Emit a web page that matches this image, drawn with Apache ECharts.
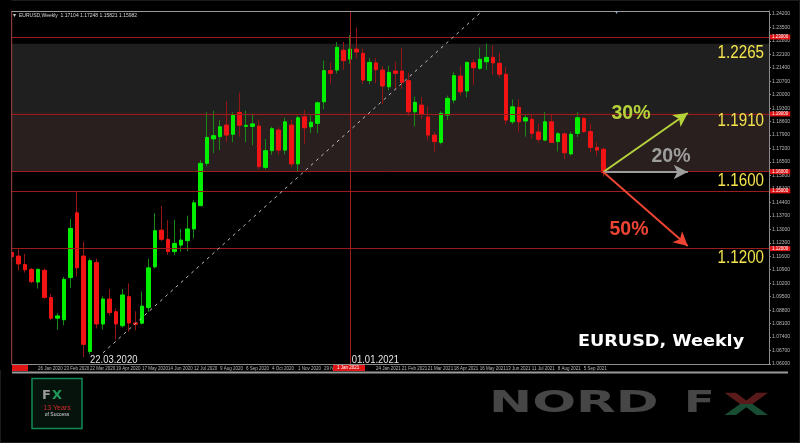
<!DOCTYPE html>
<html><head><meta charset="utf-8">
<script src="https://cdn.jsdelivr.net/npm/echarts@6/dist/echarts.min.js"></script>
<style>html,body{margin:0;padding:0;background:#000;}#c{width:800px;height:443px;}</style>
</head><body><div id="c"></div>
<script>
// ---------- data ----------
const weeks = ['29 Dec 2019','5 Jan 2020','12 Jan 2020','19 Jan 2020','26 Jan 2020','2 Feb 2020','9 Feb 2020','16 Feb 2020','23 Feb 2020','1 Mar 2020','8 Mar 2020','15 Mar 2020','22 Mar 2020','29 Mar 2020','5 Apr 2020','12 Apr 2020','19 Apr 2020','26 Apr 2020','3 May 2020','10 May 2020','17 May 2020','24 May 2020','31 May 2020','7 Jun 2020','14 Jun 2020','21 Jun 2020','28 Jun 2020','5 Jul 2020','12 Jul 2020','19 Jul 2020','26 Jul 2020','2 Aug 2020','9 Aug 2020','16 Aug 2020','23 Aug 2020','30 Aug 2020','6 Sep 2020','13 Sep 2020','20 Sep 2020','27 Sep 2020','4 Oct 2020','11 Oct 2020','18 Oct 2020','25 Oct 2020','1 Nov 2020','8 Nov 2020','15 Nov 2020','22 Nov 2020','29 Nov 2020','6 Dec 2020','13 Dec 2020','20 Dec 2020','27 Dec 2020','3 Jan 2021','10 Jan 2021','17 Jan 2021','24 Jan 2021','31 Jan 2021','7 Feb 2021','14 Feb 2021','21 Feb 2021','28 Feb 2021','7 Mar 2021','14 Mar 2021','21 Mar 2021','28 Mar 2021','4 Apr 2021','11 Apr 2021','18 Apr 2021','25 Apr 2021','2 May 2021','9 May 2021','16 May 2021','23 May 2021','30 May 2021','6 Jun 2021','13 Jun 2021','20 Jun 2021','27 Jun 2021','4 Jul 2021','11 Jul 2021','18 Jul 2021','25 Jul 2021','1 Aug 2021','8 Aug 2021','15 Aug 2021','22 Aug 2021','29 Aug 2021','5 Sep 2021','12 Sep 2021','19 Sep 2021','26 Sep 2021'];
const openP = [1.1180,1.1161,1.1117,1.1092,1.1026,1.1087,1.0946,1.0838,1.0830,1.1049,
1.1386,1.1161,1.0665,1.1127,1.0808,1.0938,1.0872,1.0799,1.0950,1.0813,
1.0812,1.0893,1.1105,1.1296,1.1248,1.1184,1.1218,1.1241,1.1302,1.1423,
1.1643,1.1770,1.1782,1.1842,1.1794,1.1908,1.1835,1.1835,1.1837,1.1622,
1.1709,1.1816,1.1712,1.1842,1.1640,1.1885,1.1833,1.1851,1.1963,1.2125,
1.2128,1.2231,1.2185,1.2237,1.2215,1.2073,1.2165,1.2128,1.2041,1.2123,
1.2123,1.2073,1.1911,1.1946,1.1884,1.1790,1.1752,1.1894,1.1972,1.2097,
1.2019,1.2166,1.2137,1.2171,1.2194,1.2163,1.2106,1.1859,1.1934,1.1863,
1.1872,1.1806,1.1764,1.1859,1.1756,1.1796,1.1692,1.1799,1.1877,1.1808,
1.1726,1.1716];
const closeP = [1.1158,1.1120,1.1090,1.1028,1.1092,1.0946,1.0838,1.0850,1.1040,1.1305,
1.1100,1.0702,1.1137,1.0808,1.0938,1.0867,1.0808,1.0959,1.0813,1.0807,
1.0901,1.1100,1.1293,1.1248,1.1184,1.1227,1.1244,1.1302,1.1438,1.1643,
1.1778,1.1787,1.1833,1.1790,1.1894,1.1841,1.1841,1.1848,1.1626,1.1709,
1.1823,1.1712,1.1859,1.1640,1.1880,1.1828,1.1857,1.1958,1.2125,1.2111,
1.2246,1.2177,1.2237,1.2222,1.2076,1.2168,1.2130,1.2045,1.2116,1.2111,
1.2064,1.1911,1.1960,1.1898,1.1790,1.1756,1.1903,1.1981,1.2099,1.2015,
1.2168,1.2140,1.2184,1.2194,1.2165,1.2106,1.1868,1.1937,1.1859,1.1880,
1.1799,1.1768,1.1859,1.1752,1.1797,1.1698,1.1794,1.1880,1.1808,1.1726,
1.1712,1.1595];
const highP = [1.1239,1.1201,1.1173,1.1100,1.1096,1.1096,1.0965,1.0865,1.1053,1.1355,
1.1496,1.1236,1.1147,1.1148,1.0952,1.0990,1.0887,1.0990,1.1019,1.0874,
1.0977,1.1147,1.1384,1.1422,1.1348,1.1349,1.1302,1.1371,1.1452,1.1660,
1.1909,1.1916,1.1867,1.1966,1.1909,1.2011,1.1917,1.1901,1.1872,1.1770,
1.1834,1.1831,1.1881,1.1870,1.1891,1.1920,1.1893,1.1965,1.2177,1.2167,
1.2273,1.2274,1.2310,1.2349,1.2240,1.2190,1.2190,1.2150,1.2150,1.2170,
1.2243,1.2113,1.1990,1.1989,1.1941,1.1807,1.1914,1.1995,1.2117,1.2150,
1.2172,1.2183,1.2245,1.2266,1.2255,1.2218,1.2145,1.1975,1.1975,1.1895,
1.1897,1.1850,1.1909,1.1900,1.1806,1.1806,1.1807,1.1909,1.1884,1.1849,
1.1752,1.1725];
const lowP = [1.1125,1.1086,1.1075,1.1019,1.0992,1.0940,1.0827,1.0778,1.0801,1.0995,
1.1055,1.0636,1.0650,1.0785,1.0780,1.0852,1.0727,1.0790,1.0767,1.0775,
1.0806,1.0871,1.1096,1.1239,1.1168,1.1166,1.1185,1.1186,1.1254,1.1421,
1.1627,1.1696,1.1711,1.1754,1.1753,1.1782,1.1753,1.1737,1.1612,1.1612,
1.1688,1.1689,1.1689,1.1622,1.1603,1.1745,1.1800,1.1800,1.1924,1.2058,
1.2110,1.2130,1.2160,1.2190,1.2055,1.2054,1.2058,1.1952,1.2022,1.2023,
1.2030,1.1891,1.1835,1.1874,1.1762,1.1704,1.1742,1.1868,1.1955,1.1995,
1.1986,1.2052,1.2130,1.2128,1.2104,1.2088,1.1845,1.1848,1.1807,1.1782,
1.1772,1.1752,1.1758,1.1750,1.1705,1.1664,1.1684,1.1780,1.1802,1.1700,
1.1684,1.1575];

const yMin = 1.06, yMax = 1.2435, yStep = 0.007;   // right price scale
const zoneTop = [1.2265, 1.1910];     // grey zone
const zoneMid = [1.1910, 1.1600];     // brown zone
const levelLines = [1.2265, 1.1910, 1.1600, 1.1500, 1.1200];
const levelTexts = [['1.2265',1.2265],['1.1910',1.1910],['1.1600',1.1600],['1.1200',1.1200]];
const markedWeek = 52;                // 01.01.2021 vertical line
const trendLine = [[14, 1.0658], [72, 1.2424]];
const arrowStart = [91, 1.1598];
const scenarios = [
  {label:'30%', end:[104, 1.1905], color:'#b6d23a'},
  {label:'20%', end:[104, 1.1598], color:'#9d9d9d'},
  {label:'50%', end:[104, 1.1213], color:'#ee4433'}
];
const titleText = 'EURUSD,Weekly  1.17104 1.17248 1.15821 1.15982';
const padSlots = 25;

// ---------- build ----------
const cats = weeks.concat(Array.from({length:padSlots}, (_, k) => 'pad' + k));
const wickData = weeks.map((_, i) => [openP[i], closeP[i], lowP[i], highP[i]]);
const bodyData = weeks.map((_, i) => [openP[i], closeP[i], Math.min(openP[i], closeP[i]), Math.max(openP[i], closeP[i])]);
const emptyData = cats.map(() => '-');

const LINE_RED = '#9a1c1c';
const option = {
  backgroundColor: '#000',
  animation: false,
  grid: {left: 8.75, right: 31, top: 11, bottom: 79, containLabel: false},
  xAxis: {
    type: 'category', data: cats, boundaryGap: true,
    axisLine: {show: true, lineStyle: {color: '#8c8c8c', width: 1}},
    axisTick: {show: false},
    splitLine: {show: false},
    axisLabel: {
      interval: (i) => i % 4 === 0 && i >= 4 && i <= 88 && i !== markedWeek,
      hideOverlap: false, showMinLabel: true,
      align: 'left', fontSize: 4.5, color: '#b8b8b8', margin: 2, fontFamily: 'Liberation Sans'
    }
  },
  yAxis: {
    type: 'value', position: 'right', min: yMin, max: yMax, interval: yStep, scale: true,
    axisLine: {show: true, lineStyle: {color: '#8c8c8c', width: 1}},
    axisTick: {show: true, length: 2, lineStyle: {color: '#8c8c8c'}},
    splitLine: {show: false},
    axisLabel: {fontSize: 5, color: '#b8b8b8', margin: 3, showMaxLabel: false,
      formatter: (v) => v.toFixed(5), fontFamily: 'Liberation Sans'}
  },
  series: [
    { // zones and level lines
      type: 'line', data: emptyData, silent: true, z: 1, symbol: 'none',
      markArea: {silent: true, data: [
        [{yAxis: zoneTop[0], itemStyle: {color: '#1f1f1f'}}, {yAxis: zoneTop[1]}],
        [{yAxis: zoneMid[0], itemStyle: {color: '#2a1f1f'}}, {yAxis: zoneMid[1]}]
      ]},
      markLine: {silent: true, symbol: 'none', animation: false,
        lineStyle: {color: LINE_RED, width: 1, type: 'solid'},
        label: {show: true, position: 'end', distance: 1, fontSize: 4.5, color: '#fff',
          backgroundColor: '#e01515', padding: [0, 2], formatter: (p) => Number(p.value).toFixed(5)},
        data: levelLines.map(v => ({yAxis: v})).concat([{xAxis: markedWeek, label: {show: false}}])
      }
    },
    { // wicks
      type: 'candlestick', data: wickData, barWidth: 1, z: 3, silent: true,
      itemStyle: {color: '#168a16', color0: '#951414', borderColor: '#168a16', borderColor0: '#951414', borderWidth: 1}
    },
    { // bodies
      type: 'candlestick', data: bodyData, barWidth: 4, z: 4, silent: true,
      itemStyle: {color: '#00f000', color0: '#f21414', borderColor: '#00f000', borderColor0: '#f21414', borderWidth: 1}
    },
    { // trend line
      type: 'line', data: trendLine, symbol: 'none', z: 5, silent: true,
      lineStyle: {color: '#bdbdbd', width: 1, type: [3, 4]}
    },
    { // scenario arrows
      type: 'line', data: emptyData, symbol: 'none', z: 6, silent: true,
      markLine: {silent: true, symbol: ['none', 'arrow'], symbolSize: [11, 14], animation: false,
        label: {show: false},
        data: scenarios.map(s => [
          {coord: arrowStart, lineStyle: {color: s.color, width: 2, type: 'solid'}, itemStyle: {color: s.color}},
          {coord: s.end, lineStyle: {color: s.color, width: 2, type: 'solid'}, itemStyle: {color: s.color}}
        ])
      }
    }
  ]
};

const chart = echarts.init(document.getElementById('c'));
chart.setOption(option);
const py = (v) => chart.convertToPixel({yAxisIndex: 0}, v);

const g = [];
// clip first candle at frame edge
g.push({type: 'rect', z: 100, shape: {x: 0, y: 0, width: 11.5, height: 370}, style: {fill: '#000'}});
// frame
g.push({type: 'line', z: 101, shape: {x1: 11.7, y1: 11, x2: 11.7, y2: 364}, style: {stroke: '#a04848', lineWidth: 1}});
g.push({type: 'line', z: 101, shape: {x1: 11.7, y1: 11.5, x2: 769, y2: 11.5}, style: {stroke: '#9a9a9a', lineWidth: 1}});
// bottom date bar
g.push({type: 'rect', z: 101, shape: {x: 12, y: 371.5, width: 776, height: 2}, style: {fill: '#9a9a9a'}});
g.push({type: 'rect', z: 101, shape: {x: 12, y: 365, width: 16, height: 6}, style: {fill: '#e01515'}});
g.push({type: 'rect', z: 101, shape: {x: 333, y: 365, width: 32, height: 6}, style: {fill: '#e01515'}});
g.push({type: 'text', z: 102, x: 337, y: 365.5, style: {text: '1 Jan 2021', fill: '#fff', font: '4.5px "Liberation Sans"'}});
// title
g.push({type: 'text', z: 102, x: 13, y: 12.5, style: {text: '\u25BE', fill: '#ccc', font: '6px "DejaVu Sans"'}});
g.push({type: 'text', z: 102, x: 19, y: 13, style: {text: titleText, fill: '#d8d8d8', font: '5px "Liberation Sans"'}});
g.push({type: 'text', z: 102, x: 615, y: 9, style: {text: '\u25BE', fill: '#9ab', font: '6px "DejaVu Sans"'}});
// level labels
levelTexts.forEach(([t, v]) => {
  g.push({type: 'text', z: 110, x: 764, y: py(v) + 9.3, scaleX: 0.82,
    style: {text: t, fill: '#f3e34c', font: '18.5px "Liberation Sans"', align: 'right', verticalAlign: 'middle'}});
});
// scenario labels
const pctPos = [[631, 113.5], [671, 157], [629, 230]];
scenarios.forEach((s, k) => {
  g.push({type: 'text', z: 110, x: pctPos[k][0], y: pctPos[k][1],
    style: {text: s.label, fill: s.color, font: 'bold 19.5px "Liberation Sans"', align: 'center', verticalAlign: 'middle'}});
});
// date annotations
g.push({type: 'text', z: 110, x: 90, y: 360, scaleX: 0.93,
  style: {text: '22.03.2020', fill: '#e6e6e6', font: '10.2px "Liberation Sans"', verticalAlign: 'middle'}});
g.push({type: 'text', z: 110, x: 351.7, y: 360, scaleX: 0.93,
  style: {text: '01.01.2021', fill: '#e6e6e6', font: '10.2px "Liberation Sans"', verticalAlign: 'middle'}});
// chart caption
g.push({type: 'text', z: 110, x: 578, y: 342, scaleX: 1.1,
  style: {text: 'EURUSD, Weekly', fill: '#ffffff', font: 'bold 16px "DejaVu Sans"', verticalAlign: 'middle'}});
// logo
g.push({type: 'rect', z: 110, shape: {x: 32, y: 378.5, width: 50, height: 50}, style: {fill: '#06120c', stroke: '#128a55', lineWidth: 1.5}});
g.push({type: 'text', z: 111, x: 42, y: 395.5, style: {text: 'F', fill: '#9a9a9a', font: 'bold 13px "DejaVu Sans"', verticalAlign: 'middle'}});
g.push({type: 'text', z: 111, x: 52, y: 395.5, style: {text: 'X', fill: '#1f9a5a', font: 'bold 13px "DejaVu Sans"', verticalAlign: 'middle'}});
g.push({type: 'text', z: 111, x: 57, y: 408.5, style: {text: '13 Years', fill: '#d02a2a', font: '7px "Liberation Sans"', align: 'center', verticalAlign: 'middle'}});
g.push({type: 'text', z: 111, x: 57, y: 414.5, style: {text: 'of Success', fill: '#dddddd', font: '5px "Liberation Sans"', align: 'center', verticalAlign: 'middle'}});
// brand
g.push({type: 'text', z: 110, x: 489, y: 404, scaleX: 1.72,
  style: {text: 'NORD', fill: '#464646', font: 'bold 30px "DejaVu Sans"', verticalAlign: 'middle'}});
g.push({type: 'text', z: 110, x: 684, y: 404, scaleX: 1.5,
  style: {text: 'F', fill: '#464646', font: 'bold 30px "DejaVu Sans"', verticalAlign: 'middle'}});
// two-tone X of the brand mark
g.push({type: 'polygon', z: 110, shape: {points: [[724.5,392.7],[736,392.7],[746.3,400.5],[756.5,392.7],[768,392.7],[752.5,403.9],[740,403.9]]}, style: {fill: '#5a1a1a'}});
g.push({type: 'polygon', z: 110, shape: {points: [[740,403.9],[752.5,403.9],[768,415],[756.5,415],[746.3,407.3],[736,415],[724.5,415]]}, style: {fill: '#184d34'}});
// outer border
g.push({type: 'rect', z: 1, shape: {x: 0.5, y: 0.5, width: 799, height: 442}, style: {fill: 'none', stroke: '#1c1c1c', lineWidth: 1}});
chart.setOption({graphic: g});
</script>
</body></html>
